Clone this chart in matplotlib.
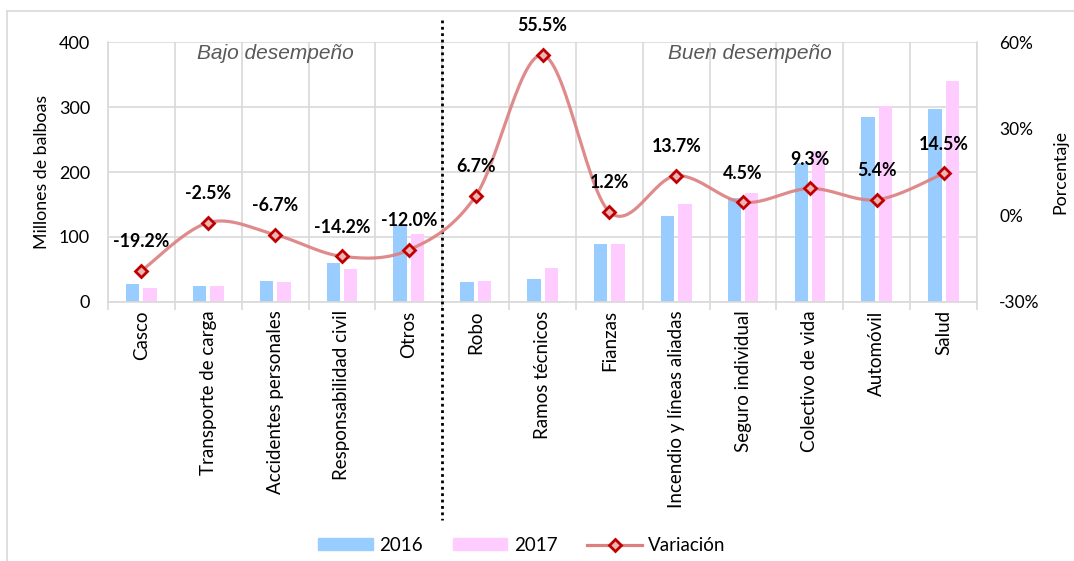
import matplotlib.pyplot as plt
import numpy as np
from matplotlib.lines import Line2D
from matplotlib.patches import Patch
import matplotlib.transforms as mtransforms

categorias = ['Casco', 'Transporte de carga', 'Accidentes personales', 'Responsabilidad civil',
              'Otros', 'Robo', 'Ramos técnicos', 'Fianzas', 'Incendio y líneas aliadas',
              'Seguro individual', 'Colectivo de vida', 'Automóvil', 'Salud']
primas_2016 = [27, 25, 32, 60, 119, 31, 35, 89, 132, 160, 214, 285, 297]
primas_2017 = [22, 24, 30, 51, 105, 33, 53, 89, 150, 168, 233, 301, 340]
variacion = [-19.2, -2.5, -6.7, -14.2, -12.0, 6.7, 55.5, 1.2, 13.7, 4.5, 9.3, 5.4, 14.5]
ticks_izq = [0, 100, 200, 300, 400]
ticks_der = [-30, 0, 30, 60]

C16 = '#99CCFF'
C17 = '#FFCCFF'
CLINE = '#DC7F7F'
CMARK = '#C00000'
GRID = '#D9D9D9'

plt.rcParams['font.family'] = ['Lato', 'DejaVu Sans']


def catmull_rom(x, y, n=30):
    # curva suavizada tipo Excel
    x = np.asarray(x, float)
    y = np.asarray(y, float)
    px = np.concatenate([[x[0]], x, [x[-1]]])
    py = np.concatenate([[y[0]], y, [y[-1]]])
    xs, ys = [], []
    t = np.linspace(0, 1, n)
    for i in range(1, len(px) - 2):
        p0, p1, p2, p3 = (np.array([px[j], py[j]]) for j in (i - 1, i, i + 1, i + 2))
        b1 = p1 + (p2 - p0) / 6
        b2 = p2 - (p3 - p1) / 6
        pts = ((1 - t) ** 3)[:, None] * p1 + (3 * (1 - t) ** 2 * t)[:, None] * b1 \
            + (3 * (1 - t) * t ** 2)[:, None] * b2 + (t ** 3)[:, None] * p2
        xs.append(pts[:, 0])
        ys.append(pts[:, 1])
    return np.concatenate(xs), np.concatenate(ys)


fig = plt.figure(figsize=(10.74, 5.61), dpi=100)
ax = fig.add_axes([0.1006, 0.4617, 0.8091, 0.4634])
ax2 = ax.twinx()

x = np.arange(len(categorias))
w = 0.2
ax.bar(x - 0.13, primas_2016, w, color=C16, zorder=2)
ax.bar(x + 0.13, primas_2017, w, color=C17, zorder=2)

ax.set_xlim(-0.5, len(categorias) - 0.5)
ax.set_ylim(0, 400)
ax.set_yticks(ticks_izq)
ax.set_yticklabels([str(v) for v in ticks_izq], fontsize=13)
ax.set_xticks(x)
ax.set_xticklabels(categorias, rotation=90, fontsize=13.5)
ax.set_xticks(np.arange(-0.5, len(categorias)), minor=True)
ax.tick_params(axis='x', which='major', length=0, pad=6)
ax.tick_params(axis='x', which='minor', length=6, color=GRID, width=1.2)
ax.tick_params(axis='y', length=0, pad=13)
ax.grid(axis='y', color=GRID, lw=1.2, zorder=0)
ax.grid(axis='x', which='minor', color=GRID, lw=1.2, zorder=0)
for s in ax.spines.values():
    s.set_color(GRID)
    s.set_linewidth(1.2)
ax.spines['top'].set_visible(False)
ax.set_ylabel('Millones de balboas', fontsize=12.8, labelpad=6)

xs, ys = catmull_rom(x, variacion)
ax2.plot(xs, ys, color=CLINE, lw=2.3, alpha=0.9, zorder=3)
ax2.plot(x, variacion, ls='none', marker='D', ms=6.5, mec=CMARK, mew=2, mfc='#EBB5B5', zorder=4)
for xi, v in zip(x, variacion):
    ax2.annotate(f'{v:.1f}%', (xi, v), xytext=(0, 21), textcoords='offset points',
                 ha='center', va='center', fontsize=12.8, fontweight='bold', color='black',
                 annotation_clip=False, zorder=5)
ax2.set_ylim(-30, 60)
ax2.set_yticks(ticks_der)
ax2.set_yticklabels([f'{v}%' for v in ticks_der], fontsize=12.5)
ax2.tick_params(axis='y', length=0, pad=16)
for s in ax2.spines.values():
    s.set_visible(False)
ax2.set_ylabel('Porcentaje', fontsize=12.8, labelpad=9)

ax.text(2.0, 383, 'Bajo desempeño', ha='center', va='center', fontsize=15, style='italic',
        color='#595959', family='Liberation Sans', zorder=5)
ax.text(9.1, 383, 'Buen desempeño', ha='center', va='center', fontsize=15, style='italic',
        color='#595959', family='Liberation Sans', zorder=5)

# separador punteado entre grupos
tr = mtransforms.blended_transform_factory(ax.transData, ax.transAxes)
ax.plot([4.5, 4.5], [1.085, -0.838], transform=tr, color='black', ls=(0, (1, 1.3)),
        lw=2, clip_on=False, zorder=6)

# marco del gráfico
fig.add_artist(Line2D([7 / 1074, 7 / 1074], [0, 1 - 11 / 561], color=GRID, lw=1.2))
fig.add_artist(Line2D([7 / 1074, 1], [1 - 11 / 561, 1 - 11 / 561], color=GRID, lw=1.2))

handles = [Patch(color=C16, label='2016'), Patch(color=C17, label='2017'),
           Line2D([], [], color=CLINE, lw=2.3, marker='D', ms=6.5, mec=CMARK, mew=2,
                  mfc='#EBB5B5', label='Variación')]
fig.legend(handles=handles, loc='center', bbox_to_anchor=(522 / 1074, 0.028), ncol=3,
           frameon=False, fontsize=13.5, handlelength=2.9, handleheight=0.6,
           handletextpad=0.35, columnspacing=1.6)

fig.savefig('out.png', dpi=100)
